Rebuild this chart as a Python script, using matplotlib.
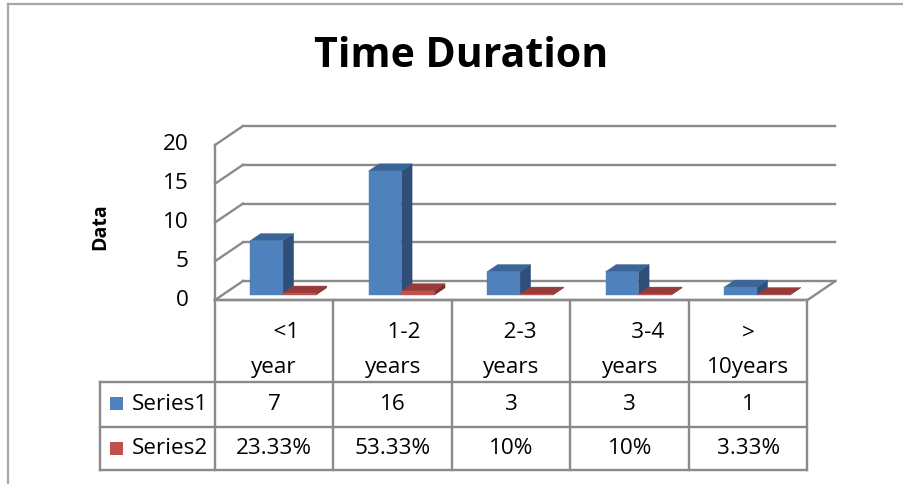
import matplotlib
matplotlib.use("Agg")
import matplotlib.pyplot as plt
from matplotlib.patches import Polygon, Rectangle
from matplotlib.lines import Line2D
from matplotlib.transforms import ScaledTranslation

# ---- data -------------------------------------------------------------
title = "Time Duration"
y_label = "Data"
categories = ["    <1\nyear", "    1-2\nyears", "   2-3\nyears", "      3-4\nyears", ">\n10years"]
series_names = ["Series1", "Series2"]
series1 = [7, 16, 3, 3, 1]
series2 = [0.2333, 0.5333, 0.10, 0.10, 0.0333]
y_ticks = [0, 5, 10, 15, 20]

# ---- style --------------------------------------------------------------
FONT = "Open Sans"
plt.rcParams["font.family"] = [FONT, "DejaVu Sans"]
TXT = 16.2
GRID = "#8a8a8a"
FACE = {"Series1": ("#4f81bd", "#3b6597", "#2f4f7a"),
        "Series2": ("#c0504d", "#973b39", "#7a2e2c")}

W, H = 904, 484
fig = plt.figure(figsize=(W / 100, H / 100), dpi=100)


def fig_box(left, top, right, bottom):
    """Pixel box (from the top-left corner) -> figure fraction rect."""
    return [left / W, 1 - bottom / H, (right - left) / W, (bottom - top) / H]


# outer chart frame
for xs, ys in (([8, 8], [4, H + 5]), ([8, W + 5], [4, 4])):
    fig.add_artist(Line2D([x / W for x in xs], [1 - y / H for y in ys],
                          color="#a6a6a6", lw=1.6, transform=fig.transFigure))

# ---- 3-D plot area ------------------------------------------------------
n = len(categories)
ymax = y_ticks[-1]
CAT_PX, UNIT_PX = 118.5, 7.75       # pixel size of one category / one unit
DEP_DX, DEP_DY = 28.0, 19.0         # pixel shift of the back wall
ddx, ddy = DEP_DX / CAT_PX, DEP_DY / UNIT_PX

x0_px, y0_px = 215, 300
ax = fig.add_axes(fig_box(x0_px, y0_px - ymax * UNIT_PX - DEP_DY,
                          x0_px + n * CAT_PX + DEP_DX, y0_px))
ax.set_xlim(0, n + ddx)
ax.set_ylim(0, ymax + ddy)
ax.axis("off")


def proj(x, v, d):
    return x + d * ddx, v + d * ddy


def seg(p, q, **kw):
    ax.plot([p[0], q[0]], [p[1], q[1]], color=GRID, lw=1.7,
            solid_capstyle="projecting", clip_on=False, zorder=1, **kw)


tick_shift = ax.transData + ScaledTranslation(-26 / 100, 0, fig.dpi_scale_trans)
for v in y_ticks:
    seg(proj(0, v, 1), proj(n, v, 1))      # back-wall gridline
    seg(proj(0, v, 0), proj(0, v, 1))      # side-wall gridline
    ax.text(*proj(0, v, 0), f"{v}", ha="right", va="center", fontsize=TXT,
            transform=tick_shift)
seg(proj(0, 0, 0), proj(0, ymax, 0))       # side-wall front edge
seg(proj(0, 0, 0), proj(n, 0, 0))          # floor front edge
seg(proj(n, 0, 0), proj(n, 0, 1))          # floor right edge

# bars
BAR_L, BAR_W = 0.234, 0.278
D0, D1 = 0.26, 0.64
for i in range(n):
    for k, (name, vals) in enumerate(zip(series_names, (series1, series2))):
        v = vals[i]
        xa = i + BAR_L + k * BAR_W
        xb = xa + BAR_W
        front, top, side = FACE[name]
        faces = [
            ([proj(xb, 0, D0), proj(xb, 0, D1), proj(xb, v, D1), proj(xb, v, D0)], side),
            ([proj(xa, v, D0), proj(xb, v, D0), proj(xb, v, D1), proj(xa, v, D1)], top),
            ([proj(xa, 0, D0), proj(xb, 0, D0), proj(xb, v, D0), proj(xa, v, D0)], front),
        ]
        for pts, col in faces:
            ax.add_patch(Polygon(pts, closed=True, facecolor=col, edgecolor=col,
                                 lw=0.3, zorder=3 + i * 2 + k, clip_on=False))

fig.text(100 / W, 1 - 227 / H, y_label, rotation=90, ha="center", va="center",
         fontsize=14, fontweight="bold")
fig.text(461 / W, 1 - 66.7 / H, title, ha="center", va="baseline",
         fontsize=29.5, fontweight="bold")

# ---- data table ---------------------------------------------------------
HEAD = 115 / CAT_PX
tab_top, tab_bot = 300, 470
ta = fig.add_axes(fig_box(x0_px - HEAD * CAT_PX, tab_top, x0_px + n * CAT_PX, tab_bot))
ta.set_xlim(-HEAD, n)
ta.set_ylim(tab_bot - tab_top, 0)
ta.axis("off")
row_lines = [0, 82, 127, 170]
row_mid = [104, 149]


def tline(xs, ys):
    ta.plot(xs, ys, color=GRID, lw=1.7, clip_on=False, zorder=1,
            solid_capstyle="projecting")


tline([0, n], [row_lines[0]] * 2)
for y in row_lines[1:]:
    tline([-HEAD, n], [y, y])
for x in range(n + 1):
    tline([x, x], [row_lines[0], row_lines[-1]])
tline([-HEAD, -HEAD], [row_lines[1], row_lines[-1]])

for i, lab in enumerate(categories):
    for j, line in enumerate(lab.split("\n")):
        ta.text(i + 0.5, 33 + 34 * j, line, ha="center", va="center", fontsize=TXT)


def pct(v):
    s = f"{v * 100:.2f}".rstrip("0").rstrip(".")
    return s + "%"


rows = [[f"{v}" for v in series1], [pct(v) for v in series2]]
for r, (name, labels) in enumerate(zip(series_names, rows)):
    y = row_mid[r]
    ta.add_patch(Rectangle((-0.886, y - 7), 0.11, 13, facecolor=FACE[name][0],
                           edgecolor="none", clip_on=False))
    ta.text(-0.70, y, name, ha="left", va="center", fontsize=TXT)
    for i, s in enumerate(labels):
        ta.text(i + 0.5, y, s, ha="center", va="center", fontsize=TXT)

fig.savefig("out.png", dpi=100)
